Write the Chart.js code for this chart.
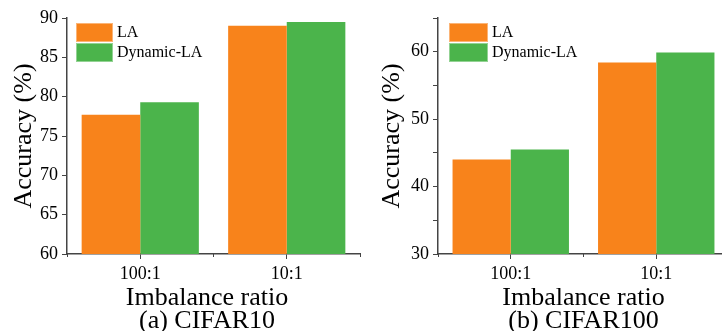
<!DOCTYPE html>
<html>
<head>
<meta charset="utf-8">
<script src="https://cdn.jsdelivr.net/npm/chart.js@4.4.1/dist/chart.umd.min.js"></script>
<style>
  html, body { margin: 0; padding: 0; background: #fff; overflow: hidden; }
  #left { position: absolute; left: 0; top: 0; }
  #right { position: absolute; left: 361px; top: 0; }
</style>
</head>
<body>
<canvas id="left" width="361" height="333"></canvas>
<canvas id="right" width="369" height="333"></canvas>
<script>
// categories and values
const categories = ["100:1", "10:1"];
const seriesNames = ["LA", "Dynamic-LA"];
const cifar10LA = [77.7, 89.0];
const cifar10DynLA = [79.3, 89.5];
const cifar100LA = [44.0, 58.4];
const cifar100DynLA = [45.5, 59.9];
const cifar10Ticks = [60, 65, 70, 75, 80, 85, 90];
const cifar100Ticks = [30, 40, 50, 60];

const ORANGE = "#f8831b";
const GREEN = "#4bb44b";
const AXIS = "#444";
const FONT = "'Liberation Serif', 'Times New Roman', serif";

// legend drawn in the top-left corner of the plot area
const boxLegend = {
  id: "boxLegend",
  afterDraw(chart, args, opts) {
    const ctx = chart.ctx;
    const area = chart.chartArea;
    const x = area.left + opts.dx;
    let y = area.top + opts.dy;
    ctx.save();
    ctx.font = "16px " + FONT;
    ctx.textBaseline = "middle";
    ctx.textAlign = "left";
    chart.data.datasets.forEach(ds => {
      ctx.fillStyle = ds.backgroundColor;
      ctx.fillRect(x, y, opts.boxW, 19);
      ctx.strokeStyle = "rgba(255,255,255,0.4)";
      ctx.lineWidth = 1;
      ctx.strokeRect(x + 0.5, y + 0.5, opts.boxW - 1, 18);
      ctx.fillStyle = "#000";
      ctx.fillText(ds.label, x + opts.boxW + 4, y + 10);
      y += 20;
    });
    ctx.restore();
  }
};

// pad: trailing spaces nudge the centred axis caption left, as in the figure
function makeChart(id, la, dyn, yMin, yMax, step, labelTicks, caption, pad, yTitlePad, yWidth, legendDx, legendW) {
  return new Chart(document.getElementById(id), {
    type: "bar",
    data: {
      labels: categories,
      datasets: [
        { label: seriesNames[0], data: la, backgroundColor: ORANGE, borderWidth: 0 },
        { label: seriesNames[1], data: dyn, backgroundColor: GREEN, borderWidth: 0 }
      ]
    },
    options: {
      responsive: false,
      animation: false,
      layout: { padding: { top: 18, right: 1, left: 0, bottom: 0 } },
      datasets: { bar: { categoryPercentage: 0.8, barPercentage: 1.0 } },
      plugins: {
        legend: { display: false },
        tooltip: { enabled: false },
        boxLegend: { dx: legendDx, dy: 5, boxW: legendW }
      },
      scales: {
        x: {
          weight: 1,
          offset: true,
          grid: { display: true, drawOnChartArea: false, offset: false, tickLength: 5, tickColor: AXIS, tickWidth: 1 },
          border: { display: true, color: AXIS, width: 1.5 },
          ticks: { color: "#000", font: { family: FONT, size: 18 }, padding: 4 },
          title: {
            display: true,
            text: ["Imbalance ratio" + pad, caption + pad],
            color: "#000",
            font: { family: FONT, size: 26, lineHeight: 0.885 },
            padding: { top: 0, bottom: 0 }
          },
          afterFit(scale) { scale.height = 79; }
        },
        xb: {
          type: "category",
          position: "bottom",
          weight: 0,
          offset: true,
          grid: { display: true, drawOnChartArea: false, offset: true, tickLength: 3, tickColor: AXIS, tickWidth: 1 },
          border: { display: false },
          ticks: { display: false },
          afterFit(scale) { scale.height = 0; }
        },
        y: {
          min: yMin,
          max: yMax,
          grid: { display: true, drawOnChartArea: false, tickLength: 5, tickColor: AXIS, tickWidth: 1 },
          border: { display: true, color: AXIS, width: 1.5 },
          ticks: {
            stepSize: step,
            color: "#000",
            font: { family: FONT, size: 18 },
            padding: 4,
            callback: v => labelTicks.includes(v) ? String(v) : ""
          },
          title: {
            display: true,
            text: "Accuracy (%)",
            color: "#000",
            font: { family: FONT, size: 26, lineHeight: 1.2 },
            padding: { top: yTitlePad, bottom: 0 }
          },
          afterFit(scale) { scale.width = yWidth; }
        }
      }
    },
    plugins: [boxLegend]
  });
}

makeChart("left", cifar10LA, cifar10DynLA, 60, 90, 2.5, cifar10Ticks, "(a) CIFAR10", "\u00a0\u00a0", 9, 67, 9, 37);
makeChart("right", cifar100LA, cifar100DynLA, 30, 65, 5, cifar100Ticks, "(b) CIFAR100", "", 16, 77, 11, 39);
</script>
</body>
</html>
